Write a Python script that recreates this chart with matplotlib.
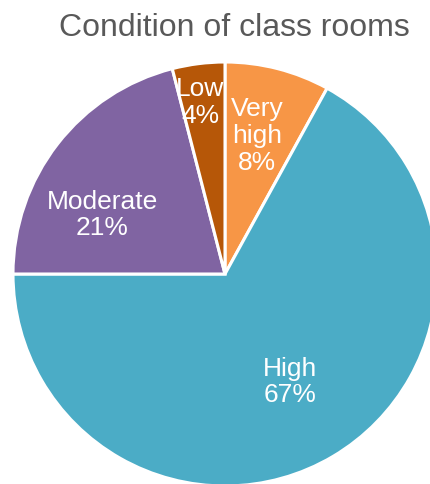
import matplotlib.pyplot as plt

# data
labels = ['Very high', 'High', 'Moderate', 'Low']
values = [8, 67, 21, 4]
colors = ['#F79646', '#4BACC6', '#8064A2', '#B65708']

# label text positions (axes data coords, pie radius = 1)
label_pos = [(0.151, 0.655), (0.307, -0.505), (-0.58, 0.283), (-0.118, 0.815)]

plt.rcParams['font.family'] = ['Liberation Sans', 'DejaVu Sans']

fig = plt.figure(figsize=(4.3, 4.85), dpi=100)
ax = fig.add_axes([13 / 430, -2 / 485, 424 / 430, 424 / 485])

wedges, _ = ax.pie(values, colors=colors, startangle=90, counterclock=False,
                   radius=1, wedgeprops={'edgecolor': 'white', 'linewidth': 2.2})

total = sum(values)
for lab, val, (x, y) in zip(labels, values, label_pos):
    txt = lab.replace(' ', '\n') if lab == 'Very high' else lab
    ax.text(x, y, f'{txt}\n{round(100 * val / total)}%', ha='center', va='center',
            color='white', fontsize=19, linespacing=1.15)

ax.set_xlim(-1, 1)
ax.set_ylim(-1, 1)
ax.set_aspect('equal')
ax.axis('off')

fig.text(234 / 430, 1 - 28 / 485, 'Condition of class rooms', ha='center', va='center',
         color='#595959', fontsize=23)

fig.savefig('out.png', dpi=100)
